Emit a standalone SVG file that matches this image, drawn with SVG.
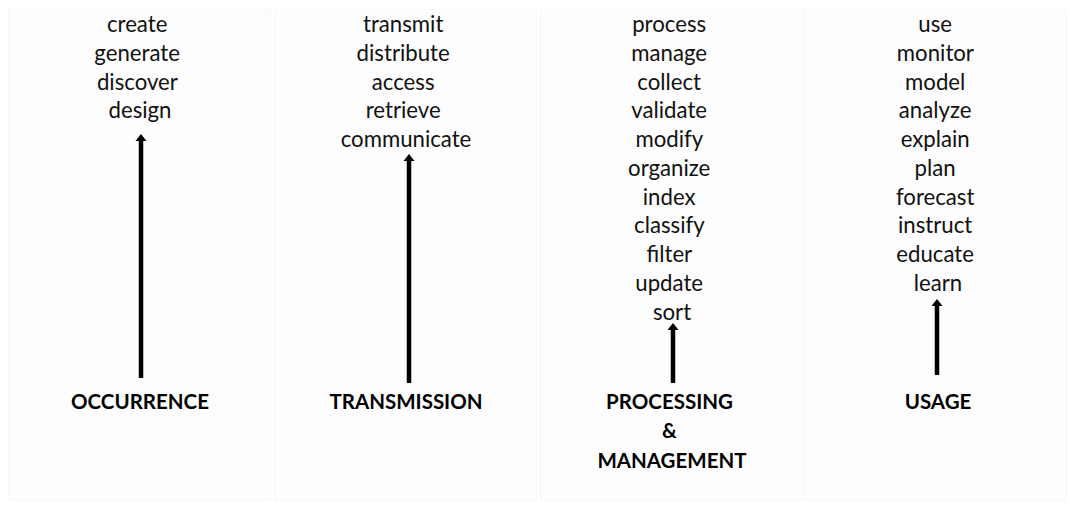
<svg xmlns="http://www.w3.org/2000/svg" width="1070" height="505" viewBox="0 0 1070 505">
  <style>
    .panel { fill: #fdfdfd; stroke: #f7f7f7; stroke-width: 1; }
    .verb { font-family: Lato, "Liberation Sans", sans-serif; font-size: 22.2px; fill: #111; text-anchor: middle; }
    .stage { font-family: Lato, "Liberation Sans", sans-serif; font-size: 20.5px; font-weight: bold; fill: #000; text-anchor: middle; }
    .shaft { stroke: #000; stroke-width: 4.5; fill: none; }
  </style>
  <defs>
    <!-- small solid arrowhead, drawn along +x so orient="auto" points it along the line -->
    <marker id="head" markerUnits="userSpaceOnUse" markerWidth="8" markerHeight="12" refX="1" refY="6" orient="auto" viewBox="0 0 8 12">
      <polygon points="0,0.5 7,6 0,11.5" fill="#000"/>
    </marker>
  </defs>
  <rect width="1070" height="505" fill="#fff"/>

  <!-- stage columns -->
  <g id="occurrence">
    <rect class="panel" x="8.5" y="9.5" width="262" height="491"/>
    <text class="verb">
      <tspan x="140" y="32">create</tspan>
      <tspan x="140" y="60.75">generate</tspan>
      <tspan x="140" y="89.5">discover</tspan>
      <tspan x="140" y="118.25">design</tspan>
    </text>
    <text class="stage" x="140" y="409">OCCURRENCE</text>
  </g>

  <g id="transmission">
    <rect class="panel" x="274.5" y="9.5" width="262" height="491"/>
    <text class="verb">
      <tspan x="406" y="32">transmit</tspan>
      <tspan x="406" y="60.75">distribute</tspan>
      <tspan x="406" y="89.5">access</tspan>
      <tspan x="406" y="118.25">retrieve</tspan>
      <tspan x="406" y="147">communicate</tspan>
    </text>
    <text class="stage" x="406" y="409">TRANSMISSION</text>
  </g>

  <g id="processing-management">
    <rect class="panel" x="540.5" y="9.5" width="262" height="491"/>
    <text class="verb">
      <tspan x="672" y="32">process</tspan>
      <tspan x="672" y="60.75">manage</tspan>
      <tspan x="672" y="89.5">collect</tspan>
      <tspan x="672" y="118.25">validate</tspan>
      <tspan x="672" y="147">modify</tspan>
      <tspan x="672" y="175.75">organize</tspan>
      <tspan x="672" y="204.5">index</tspan>
      <tspan x="672" y="233.25">classify</tspan>
      <tspan x="672" y="262">filter</tspan>
      <tspan x="672" y="290.75">update</tspan>
      <tspan x="672" y="319.5">sort</tspan>
    </text>
    <text class="stage">
      <tspan x="672" y="408.5">PROCESSING</tspan>
      <tspan x="672" y="438">&amp;</tspan>
      <tspan x="672" y="468">MANAGEMENT</tspan>
    </text>
  </g>

  <g id="usage">
    <rect class="panel" x="804.5" y="9.5" width="262" height="491"/>
    <text class="verb">
      <tspan x="938" y="32">use</tspan>
      <tspan x="938" y="60.75">monitor</tspan>
      <tspan x="938" y="89.5">model</tspan>
      <tspan x="938" y="118.25">analyze</tspan>
      <tspan x="938" y="147">explain</tspan>
      <tspan x="938" y="175.75">plan</tspan>
      <tspan x="938" y="204.5">forecast</tspan>
      <tspan x="938" y="233.25">instruct</tspan>
      <tspan x="938" y="262">educate</tspan>
      <tspan x="938" y="290.75">learn</tspan>
    </text>
    <text class="stage" x="938" y="409">USAGE</text>
  </g>

  <!-- upward arrows from each stage label to its verb list -->
  <g id="connectors">
    <line class="shaft" x1="141" y1="378" x2="141" y2="140" marker-end="url(#head)"/>
    <line class="shaft" x1="409" y1="383" x2="409" y2="160" marker-end="url(#head)"/>
    <line class="shaft" x1="673" y1="383" x2="673" y2="329" marker-end="url(#head)"/>
    <line class="shaft" x1="937" y1="375" x2="937" y2="305" marker-end="url(#head)"/>
  </g>
</svg>
